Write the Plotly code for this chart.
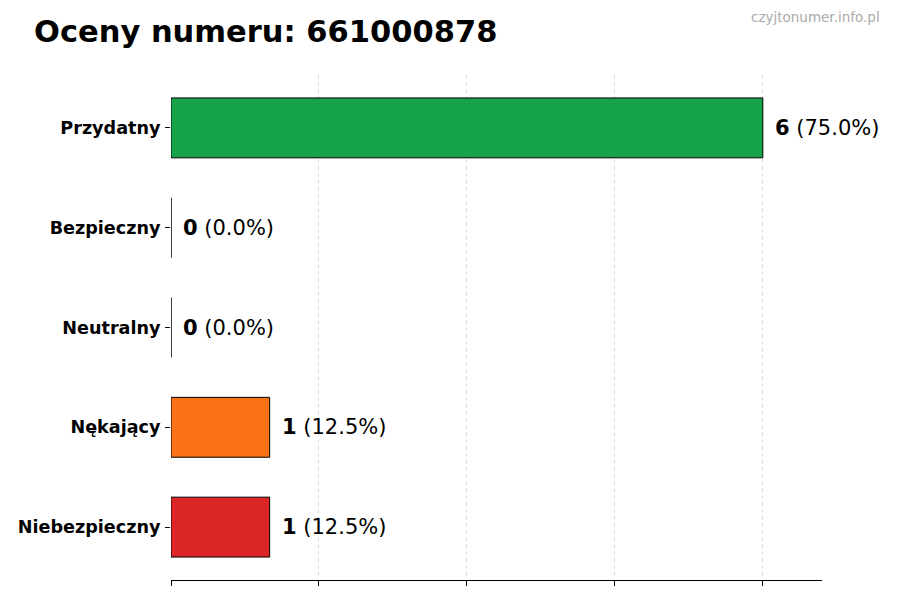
import plotly.graph_objects as go

categories = ["Przydatny", "Bezpieczny", "Neutralny", "Nękający", "Niebezpieczny"]
counts = [6, 0, 0, 1, 1]
colors = ["#16a34a", "#16a34a", "#9ca3af", "#f97316", "#dc2626"]
title_text = "Oceny numeru: 661000878"
watermark = "czyjtonumer.info.pl"
x_ticks = [0, 1.5, 3, 4.5, 6]

total = sum(counts)
FONT = "DejaVu Sans"

# page body has an 8px margin; figure is sized/positioned to compensate
W, H = 892, 592
L, R, T, B = 163, 78, 67, 20
PW, PH = W - L - R, H - T - B

fig = go.Figure()
fig.add_trace(go.Bar(
    y=categories, x=counts, orientation="h",
    marker=dict(color=colors, line=dict(color="black", width=1)),
    width=0.6, hoverinfo="skip",
))

for cat, c in zip(categories, counts):
    pct = 100.0 * c / total if total else 0
    fig.add_annotation(
        x=c, y=cat, xref="x", yref="y",
        text=f"<b>{c}</b> ({pct:.1f}%)",
        showarrow=False, xanchor="left", yanchor="middle",
        xshift=10, font=dict(family=FONT, size=21, color="black"),
    )

fig.add_annotation(
    xref="paper", yref="paper",
    x=(874 - L) / PW, y=1 + (T - 9) / PH,
    text=watermark, showarrow=False,
    xanchor="right", yanchor="middle",
    font=dict(family=FONT, size=13.5, color="#aaaaaa"),
)

fig.update_layout(
    width=W, height=H,
    margin=dict(l=L, r=R, t=T, b=B, autoexpand=False),
    paper_bgcolor="white", plot_bgcolor="white",
    showlegend=False,
    title=dict(text=f"<b>{title_text}</b>", x=26 / W, xanchor="left",
               y=1 - 23 / H, yanchor="middle",
               font=dict(family=FONT, size=30.5, color="black")),
    font=dict(family=FONT),
)

fig.update_xaxes(
    range=[0, 6.6], tickvals=x_ticks, showticklabels=False,
    ticks="outside", ticklen=5, tickcolor="black", tickwidth=1,
    showline=True, linecolor="black", linewidth=1.2,
    showgrid=True, gridcolor="#dddddd", griddash="4px,3px", gridwidth=1,
    zeroline=False, fixedrange=True, automargin=False,
)
fig.update_yaxes(
    categoryorder="array", categoryarray=categories,
    range=[4.53, -0.53],
    ticks="outside", ticklen=5, tickcolor="black",
    showline=False, showgrid=False, zeroline=False,
    tickfont=dict(family=FONT, size=17.6, color="black", weight="bold"),
    ticklabelstandoff=1, automargin=False,
)

fig.write_html("out.html")
